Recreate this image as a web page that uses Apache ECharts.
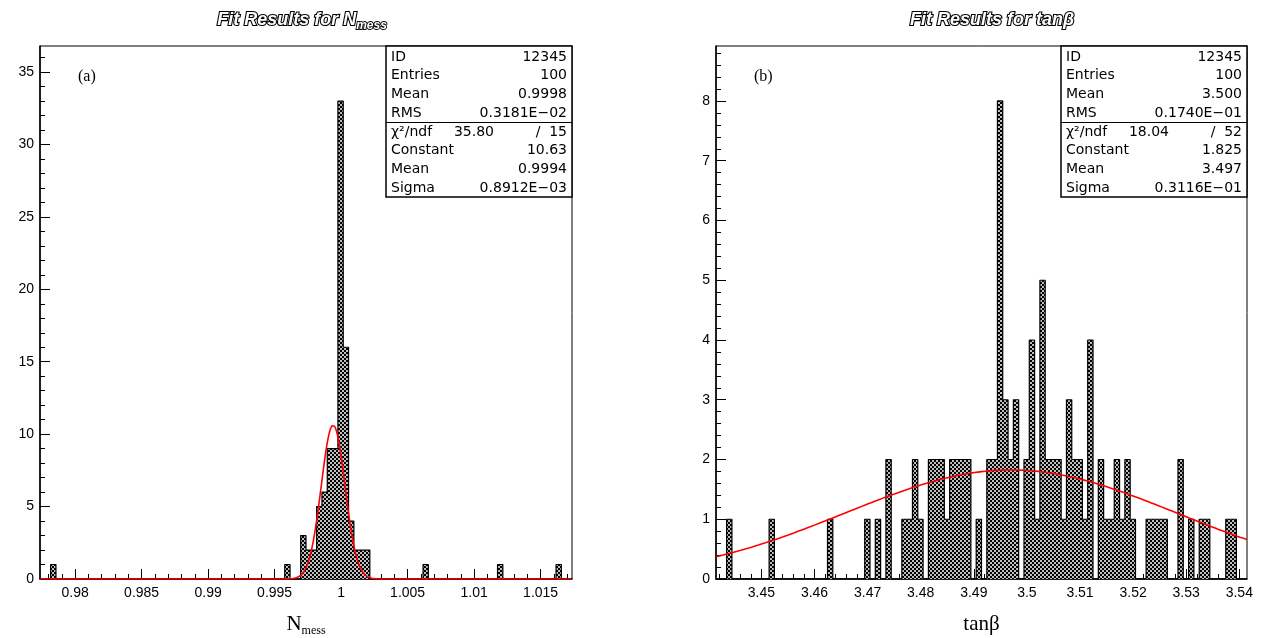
<!DOCTYPE html>
<html><head><meta charset="utf-8">
<script src="https://cdn.jsdelivr.net/npm/echarts@6/dist/echarts.min.js"></script>
<style>html,body{margin:0;padding:0;background:#fff}#c{width:1264px;height:638px}</style>
</head><body><div id="c"></div>
<script>
// ---------------- DATA ----------------
// Left histogram (N_mess): 100 bins between histRangeA
const histRangeA = [0.97736, 1.01736];
const binCountsA = [
  0,0,1,0,0,0,0,0,0,0,
  0,0,0,0,0,0,0,0,0,0,
  0,0,0,0,0,0,0,0,0,0,
  0,0,0,0,0,0,0,0,0,0,
  0,0,0,0,0,0,1,0,0,3,
  2,2,5,6,9,9,33,16,4,2,
  2,2,0,0,0,0,0,0,0,0,
  0,0,1,0,0,0,0,0,0,0,
  0,0,0,0,0,0,1,0,0,0,
  0,0,0,0,0,0,0,1,0,0
];
// Right histogram (tan beta): 100 bins between histRangeB
const histRangeB = [3.44145, 3.54145];
const binCountsB = [
  0,0,1,0,0,0,0,0,0,0,
  1,0,0,0,0,0,0,0,0,0,
  0,1,0,0,0,0,0,0,1,0,
  1,0,2,0,0,1,1,2,1,0,
  2,2,2,1,2,2,2,2,0,1,
  0,2,2,8,3,2,3,0,2,4,
  1,5,2,2,2,1,3,2,2,1,
  4,0,2,1,1,2,1,2,1,0,
  0,1,1,1,1,0,0,2,0,1,
  0,1,1,0,0,0,1,1,0,0
];
const yMaxA = 36.8;
const yMaxB = 8.92;
// Gaussian fit parameters [Constant, Mean, Sigma]
const fitParamsA = [10.63, 0.9994, 0.8912e-3];
const fitParamsB = [1.825, 3.497, 0.3116e-1];
// Tick labels
const xTickValuesA = [0.98, 0.985, 0.99, 0.995, 1, 1.005, 1.01, 1.015];
const xTickLabelsA = ['0.98','0.985','0.99','0.995','1','1.005','1.01','1.015'];
const xTickValuesB = [3.45, 3.46, 3.47, 3.48, 3.49, 3.5, 3.51, 3.52, 3.53, 3.54];
const xTickLabelsB = ['3.45','3.46','3.47','3.48','3.49','3.5','3.51','3.52','3.53','3.54'];
const yTickValuesA = [0, 5, 10, 15, 20, 25, 30, 35];
const yTickValuesB = [0, 1, 2, 3, 4, 5, 6, 7, 8];
// Statistics boxes
const statsA = [['ID','12345'],['Entries','100'],['Mean','0.9998'],['RMS','0.3181E\u221202']];
const fitStatsA = [['\u03c7\u00b2/ndf','35.80','15'],['Constant','10.63'],['Mean','0.9994'],['Sigma','0.8912E\u221203']];
const statsB = [['ID','12345'],['Entries','100'],['Mean','3.500'],['RMS','0.1740E\u221201']];
const fitStatsB = [['\u03c7\u00b2/ndf','18.04','52'],['Constant','1.825'],['Mean','3.497'],['Sigma','0.3116E\u221201']];
const titleA = ['Fit Results for N', 'mess'];
const titleB = ['Fit Results for tan\u03b2'];
const axisTitleA = ['N', 'mess'];
const axisTitleB = ['tan\u03b2'];
const panelTags = ['(a)', '(b)'];

// ---------------- BUILD ----------------
function makePattern() {
  const c = document.createElement('canvas');
  c.width = 4; c.height = 4;
  const g = c.getContext('2d');
  g.fillStyle = '#000'; g.fillRect(0, 0, 4, 4);
  g.fillStyle = '#fff';
  const centers = [[1,1],[3,3]];
  for (const [cx, cy] of centers) {
    for (const dx of [-4,0,4]) for (const dy of [-4,0,4]) {
      g.beginPath(); g.arc(cx+dx, cy+dy, 1.0, 0, Math.PI*2); g.fill();
    }
  }
  return c;
}
const pattern = { image: makePattern(), repeat: 'repeat' };

function histData(range, counts) {
  const n = counts.length, bw = (range[1]-range[0]) / n;
  const d = [];
  for (let i = 0; i < n; i++) d.push([range[0] + i*bw, counts[i]]);
  d.push([range[1], counts[n-1]]);
  d.push([range[1], 0]);
  return d;
}
function fitData(range, p, npts) {
  const d = [];
  for (let i = 0; i <= npts; i++) {
    const x = range[0] + (range[1]-range[0]) * i / npts;
    const z = (x - p[1]) / p[2];
    d.push([x, p[0] * Math.exp(-0.5 * z * z)]);
  }
  return d;
}
function steps(a, b, step) {
  const out = [];
  const k0 = Math.ceil(a/step - 1e-9), k1 = Math.floor(b/step + 1e-9);
  for (let k = k0; k <= k1; k++) out.push(+(k*step).toFixed(6));
  return out;
}
function labelFmt(vals, labels) {
  return function (v) {
    let best = 0, bd = Infinity;
    vals.forEach((t, i) => { const dd = Math.abs(t - v); if (dd < bd) { bd = dd; best = i; } });
    return labels[best];
  };
}
const labelFont = { color: '#000', fontFamily: 'Liberation Sans', fontSize: 14 };

function majorX(gi, range, vals, labels, name) {
  return {
    type: 'value', gridIndex: gi, min: range[0], max: range[1], position: 'bottom',
    axisLine: { show: true, onZero: false, lineStyle: { color: '#000', width: 1.5 } },
    axisTick: { show: true, inside: true, length: 10, customValues: vals, lineStyle: { color: '#000', width: 1 } },
    axisLabel: Object.assign({ show: true, customValues: vals, formatter: labelFmt(vals, labels), margin: 7 }, labelFont),
    splitLine: { show: false },
    name: name.text, nameLocation: 'middle', nameGap: name.gap,
    nameTextStyle: name.style
  };
}
function minorX(gi, range, step) {
  return {
    type: 'value', gridIndex: gi, min: range[0], max: range[1], position: 'bottom',
    axisLine: { show: false },
    axisTick: { show: true, inside: true, length: 5, customValues: steps(range[0], range[1], step), lineStyle: { color: '#000', width: 1 } },
    axisLabel: { show: false }, splitLine: { show: false }
  };
}
function majorY(gi, max, vals) {
  return {
    type: 'value', gridIndex: gi, min: 0, max: max, position: 'left',
    axisLine: { show: true, onZero: false, lineStyle: { color: '#000', width: 1.5 } },
    axisTick: { show: true, inside: true, length: 10, customValues: vals, lineStyle: { color: '#000', width: 1 } },
    axisLabel: Object.assign({ show: true, customValues: vals, margin: 6 }, labelFont),
    splitLine: { show: false }
  };
}
function minorY(gi, max, step) {
  return {
    type: 'value', gridIndex: gi, min: 0, max: max, position: 'left',
    axisLine: { show: false },
    axisTick: { show: true, inside: true, length: 5, customValues: steps(0, max, step), lineStyle: { color: '#000', width: 1 } },
    axisLabel: { show: false }, splitLine: { show: false }
  };
}

const serifName = {
  n: { fontFamily: 'Liberation Serif', fontSize: 21, color: '#000', verticalAlign: 'top', lineHeight: 22 },
  s: { fontFamily: 'Liberation Serif', fontSize: 12, color: '#000', verticalAlign: 'top', lineHeight: 22, padding: [11, 0, 0, 0] }
};

function statsGraphic(x0, y0, stats, fitStats) {
  const W = 186, H = 151, els = [];
  const font = '14px "DejaVu Sans"';
  els.push({ type: 'rect', shape: { x: x0, y: y0, width: W, height: H }, style: { fill: '#fff', stroke: '#000', lineWidth: 1.5 }, z: 100 });
  els.push({ type: 'line', shape: { x1: x0, y1: y0 + 76.5, x2: x0 + W, y2: y0 + 76.5 }, style: { stroke: '#000', lineWidth: 1.2 }, z: 101 });
  const txt = (t, x, y, align) => ({ type: 'text', z: 102, style: { text: t, x: x, y: y, font: font, fill: '#000', textAlign: align, align: align, textVerticalAlign: 'middle', verticalAlign: 'middle' } });
  stats.forEach((r, i) => {
    const y = y0 + 11 + i * 18.7;
    els.push(txt(r[0], x0 + 5, y, 'left'));
    els.push(txt(r[1], x0 + 181, y, 'right'));
  });
  fitStats.forEach((r, i) => {
    const y = y0 + 86 + i * 18.7;
    els.push(txt(r[0], x0 + 5, y, 'left'));
    if (r.length === 3) {
      els.push(txt(r[1], x0 + 108, y, 'right'));
      els.push(txt('/', x0 + 152, y, 'center'));
      els.push(txt(r[2], x0 + 181, y, 'right'));
    } else {
      els.push(txt(r[1], x0 + 181, y, 'right'));
    }
  });
  return els;
}

const titleRich = {
  t: { fontFamily: 'Liberation Sans', fontStyle: 'italic', fontWeight: 'bold', fontSize: 18, color: '#fff', textBorderColor: '#000', textBorderWidth: 2.2, verticalAlign: 'top', lineHeight: 20 },
  s: { fontFamily: 'Liberation Sans', fontStyle: 'italic', fontWeight: 'bold', fontSize: 12, color: '#fff', textBorderColor: '#000', textBorderWidth: 1.8, verticalAlign: 'top', lineHeight: 20, padding: [9, 0, 0, 0] }
};

const chart = echarts.init(document.getElementById('c'), null, { renderer: 'canvas' });
chart.setOption({
  animation: false,
  backgroundColor: '#fff',
  title: [
    { text: '{t|' + titleA[0] + '}{s|' + titleA[1] + '}', left: 297, top: 6, textAlign: 'center', textStyle: { rich: titleRich } },
    { text: '{t|' + titleB[0] + '}', left: 987, top: 6, textAlign: 'center', textStyle: { rich: titleRich } },
    { text: panelTags[0], left: 73, top: 64, textStyle: { fontFamily: 'Liberation Serif', fontSize: 16, fontWeight: 'normal', color: '#000' } },
    { text: panelTags[1], left: 749, top: 64, textStyle: { fontFamily: 'Liberation Serif', fontSize: 16, fontWeight: 'normal', color: '#000' } }
  ],
  grid: [
    { left: 40, top: 46, width: 532, height: 533, show: true, borderColor: '#000', borderWidth: 1, backgroundColor: 'transparent', containLabel: false, outerBoundsMode: 'none' },
    { left: 716, top: 46, width: 531, height: 533, show: true, borderColor: '#000', borderWidth: 1, backgroundColor: 'transparent', containLabel: false, outerBoundsMode: 'none' }
  ],
  xAxis: [
    majorX(0, histRangeA, xTickValuesA, xTickLabelsA, { text: '{n|' + axisTitleA[0] + '}{s|' + axisTitleA[1] + '}', gap: 35, style: { rich: serifName } }),
    minorX(0, histRangeA, 0.001),
    majorX(1, histRangeB, xTickValuesB, xTickLabelsB, { text: '{n|' + axisTitleB[0] + '}', gap: 35, style: { rich: serifName } }),
    minorX(1, histRangeB, 0.002)
  ],
  yAxis: [
    majorY(0, yMaxA, yTickValuesA),
    minorY(0, yMaxA, 1),
    majorY(1, yMaxB, yTickValuesB),
    minorY(1, yMaxB, 0.2)
  ],
  series: [
    { type: 'line', xAxisIndex: 0, yAxisIndex: 0, step: 'end', data: histData(histRangeA, binCountsA), symbol: 'none',
      lineStyle: { color: '#000', width: 1.2 }, areaStyle: { color: pattern, opacity: 1 }, z: 2 },
    { type: 'line', xAxisIndex: 0, yAxisIndex: 0, data: fitData(histRangeA, fitParamsA, 800), symbol: 'none', smooth: false,
      lineStyle: { color: '#ff0000', width: 1.6 }, z: 3 },
    { type: 'line', xAxisIndex: 2, yAxisIndex: 2, step: 'end', data: histData(histRangeB, binCountsB), symbol: 'none',
      lineStyle: { color: '#000', width: 1.2 }, areaStyle: { color: pattern, opacity: 1 }, z: 2 },
    { type: 'line', xAxisIndex: 2, yAxisIndex: 2, data: fitData(histRangeB, fitParamsB, 300), symbol: 'none', smooth: false,
      lineStyle: { color: '#ff0000', width: 1.6 }, z: 3 }
  ],
  graphic: { elements: statsGraphic(386, 46, statsA, fitStatsA).concat(statsGraphic(1061, 46, statsB, fitStatsB)) }
});
</script>
</body></html>
